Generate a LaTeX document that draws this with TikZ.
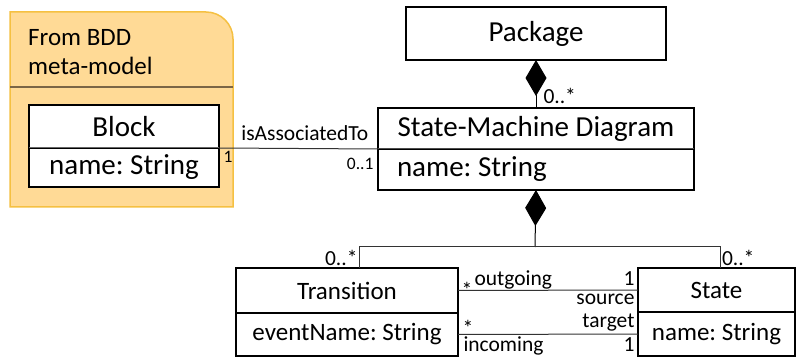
\documentclass[tikz,border=0pt]{standalone}
\usepackage{fontspec}
\setmainfont{Carlito}
\usetikzlibrary{
    arrows.meta,
    positioning
}

\definecolor{bddfill}{RGB}{255,218,150}
\definecolor{bdddraw}{RGB}{245,192,66}
\definecolor{bddline}{RGB}{123,101,69}

\begin{document}
\frenchspacing
\begin{tikzpicture}[
    x=1pt, y=1pt,
    big/.style={font=\fontsize{29}{33}\selectfont},
    mid/.style={font=\fontsize{25}{29}\selectfont},
    lbl/.style={font=\fontsize{21.5}{24}\selectfont, inner sep=1pt},
    small/.style={font=\fontsize{17.5}{20}\selectfont, inner sep=1pt},
    cls/.style={draw=black, line width=1.3pt, fill=white, inner sep=0pt, outer sep=0pt},
    boldcls/.style={draw=black, line width=2pt, fill=white, inner sep=0pt, outer sep=0pt},
    comp/.style={{Diamond[length=36pt,width=21pt]}-, line width=1pt, draw=black},
    assoc/.style={line width=1pt, draw=black!80}
]
    \useasboundingbox (0,0) rectangle (798,-358);

    % BDD meta-model region
    \draw[fill=bddfill, draw=bdddraw, line width=1.5pt]
        (10,-207) -- (10,-12) -- (206,-12) arc[start angle=90, end angle=0, radius=27] -- (233,-207) -- cycle;
    \draw[bddline, line width=2pt] (10,-87) -- (233,-87);
    \node (bddtitle) [mid, anchor=west, align=left, inner sep=0pt] at (28,-52) {From BDD\\meta-model};

    % Classes
    \node (package) [cls, big, minimum width=260pt, minimum height=53pt] at (536,-33.5) {Package};

    \node (smd) [cls, big, minimum width=316pt, minimum height=41pt, below=48pt of package] {State-Machine Diagram};
    \node (smdattr) [cls, big, minimum width=316pt, minimum height=41pt, below=0pt of smd] {\makebox[278pt][l]{name: String}};
    \draw[black!70, line width=1pt] (smd.south west) -- (smd.south east);

    \node (block) [cls, big, minimum width=190pt, minimum height=43pt] at (124,-126.5) {Block};
    \node (blockattr) [cls, big, minimum width=190pt, minimum height=39pt, below=0pt of block] {name: String};
    \draw[black!60, line width=1pt] (block.south west) -- (block.south east);

    \node (transition) [boldcls, mid, minimum width=222pt, minimum height=45pt] at (347,-290.5) {Transition};
    \node (transattr) [boldcls, mid, minimum width=222pt, minimum height=43pt, below=0pt of transition] {eventName: String};

    \node (state) [boldcls, mid, minimum width=157pt, minimum height=44pt] at (716.5,-290) {State};
    \node (stateattr) [boldcls, mid, minimum width=157pt, minimum height=44pt, below=0pt of state] {name: String};

    % Compositions
    \draw[comp] (package.south) -- (package.south |- smd.north)
        node[pos=1, lbl, anchor=base west, xshift=6pt, yshift=4pt] {0..*};

    \coordinate (fork) at (535,-247);
    \draw[comp] (smdattr.south) -- (fork);
    \draw[assoc] (fork) -| ([xshift=12pt]transition.north) node[pos=0.75, lbl, left] {0..*};
    \draw[assoc] (fork) -| ([xshift=4pt]state.north) node[pos=0.75, lbl, right] {0..*};

    % Associations
    \draw[assoc] (blockattr.north east) -- (smdattr.north west)
        node[pos=0, small, anchor=base west, xshift=3pt, yshift=-15pt] {1}
        node[pos=0.54, lbl, anchor=base, yshift=8pt] {isAssociatedTo}
        node[pos=1, small, anchor=base east, xshift=-3pt, yshift=-21pt] {0..1};

    \draw[assoc] (transition.east) -- (state.west)
        node[pos=0, lbl, anchor=base west, xshift=2pt, yshift=-7pt] {*}
        node[pos=0, lbl, anchor=base west, xshift=15pt, yshift=5pt] {outgoing}
        node[pos=1, lbl, anchor=base east, xshift=-2pt, yshift=5pt] {1}
        node[pos=1, lbl, anchor=base east, xshift=-2pt, yshift=-15pt] {source};

    \draw[assoc] (transattr.east) -- (stateattr.west)
        node[pos=0, lbl, inner sep=0pt, anchor=base west, xshift=4pt, yshift=-1pt] {*}
        node[pos=0, lbl, inner sep=0pt, anchor=base west, xshift=5pt, yshift=-17pt] {incoming}
        node[pos=1, lbl, anchor=base east, xshift=-2pt, yshift=7pt] {target}
        node[pos=1, lbl, anchor=base east, xshift=-2pt, yshift=-17pt] {1};

\end{tikzpicture}
\end{document}
